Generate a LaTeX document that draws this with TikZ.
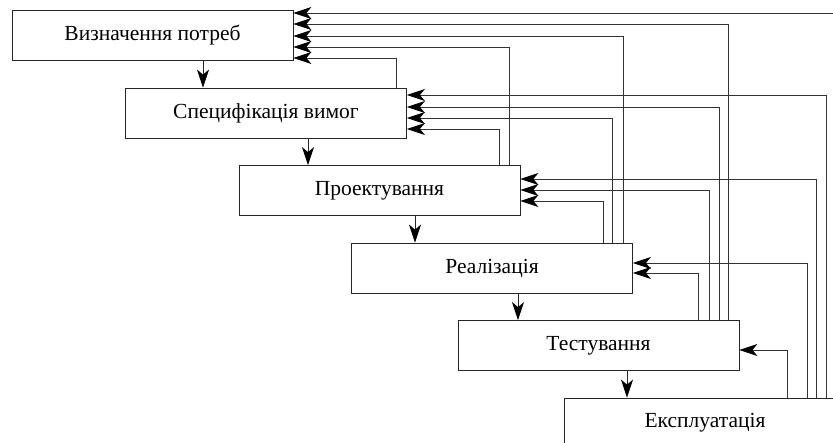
\documentclass[tikz,border=0pt]{standalone}
\usepackage{fontspec}
\setmainfont{Liberation Serif}
\usetikzlibrary{arrows.meta}
\begin{document}
\begin{tikzpicture}[x=1pt,y=-1pt,
  >={Stealth[length=18pt,width=12pt,inset=5pt,color=black]},
  box/.style={draw=black!85,line width=0.8pt,minimum width=281pt,minimum height=50pt,inner sep=0pt,font=\fontsize{21.5}{24}\selectfont},
  fb/.style={draw=black!80,line width=0.8pt,->},
  dn/.style={draw=black!85,line width=0.8pt,->}]
\useasboundingbox (0,0) rectangle (833,443);
\clip (0,0) rectangle (833,443);
\fill[white] (0,0) rectangle (833,443);
\node[box] (b1) at (152.5,35) {Визначення потреб};
\node[box] (b2) at (266,113) {Специфікація вимог};
\node[box] (b3) at (379.5,190.5) {Проектування};
\node[box] (b4) at (492,268) {Реалізація};
\node[box] (b5) at (598.5,345.5) {Тестування};
\node[box] (b6) at (705,423) {Експлуатація};
% down arrows
\draw[dn] (b1.south -| 203,0) -- (b2.north -| 203,0);
\draw[dn] (b2.south -| 308,0) -- (b3.north -| 308,0);
\draw[dn] (b3.south -| 415,0) -- (b4.north -| 415,0);
\draw[dn] (b4.south -| 518,0) -- (b5.north -| 518,0);
\draw[dn] (b5.south -| 627,0) -- (b6.north -| 627,0);
% feedback to b1
\draw[fb] (b6.north -| 838,0) |- (b1.east |- 0,13);
\draw[fb] (b5.north -| 728,0) |- (b1.east |- 0,24);
\draw[fb] (b4.north -| 623,0) |- (b1.east |- 0,36);
\draw[fb] (b3.north -| 509,0) |- (b1.east |- 0,47);
\draw[fb] (b2.north -| 396,0) |- (b1.east |- 0,58);
% feedback to b2
\draw[fb] (b6.north -| 826,0) |- (b2.east |- 0,95);
\draw[fb] (b5.north -| 719,0) |- (b2.east |- 0,107);
\draw[fb] (b4.north -| 612,0) |- (b2.east |- 0,118);
\draw[fb] (b3.north -| 499,0) |- (b2.east |- 0,129);
% feedback to b3
\draw[fb] (b6.north -| 816,0) |- (b3.east |- 0,179);
\draw[fb] (b5.north -| 709,0) |- (b3.east |- 0,190);
\draw[fb] (b4.north -| 603,0) |- (b3.east |- 0,201);
% feedback to b4
\draw[fb] (b6.north -| 807,0) |- (b4.east |- 0,263);
\draw[fb] (b5.north -| 698,0) |- (b4.east |- 0,273);
% feedback to b5
\draw[fb] (b6.north -| 787,0) |- (b5.east |- 0,350);
\end{tikzpicture}
\end{document}
